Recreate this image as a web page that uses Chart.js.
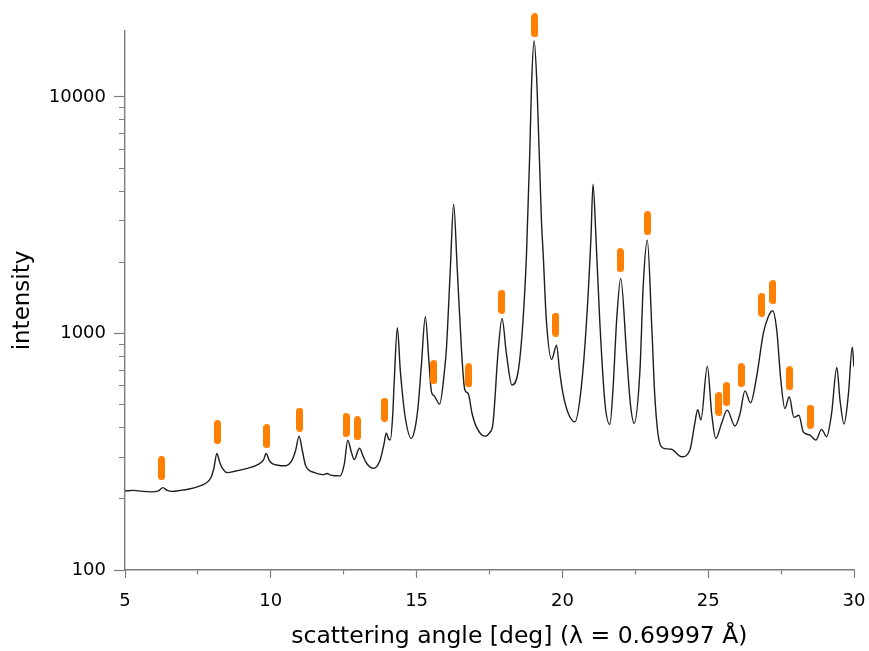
<!DOCTYPE html>
<html>
<head>
<meta charset="utf-8">
<script src="https://cdn.jsdelivr.net/npm/chart.js@4.4.0/dist/chart.umd.min.js"></script>
<style>
  html, body { margin: 0; padding: 0; background: #fff; }
</style>
</head>
<body>
<canvas id="xrd" width="869" height="651"></canvas>
<script>
// measured pattern (2theta in deg, intensity)
const angle = [
  5.0, 5.3, 5.6, 5.9, 6.15, 6.30, 6.45, 6.6, 6.9, 7.2, 7.5, 7.75, 7.95, 8.05, 8.15, 8.25, 8.35, 8.5, 8.8, 9.2,
  9.6, 9.75, 9.84, 9.95, 10.05, 10.5, 10.72, 10.85, 10.97, 11.08, 11.2, 11.5, 11.8, 11.93, 12.05, 12.38, 12.52, 12.64, 12.76, 12.86,
  13.04, 13.18, 13.29, 13.52, 13.75, 13.88, 13.96, 14.04, 14.1, 14.18, 14.23, 14.34, 14.44, 14.48, 14.6, 14.82, 14.95, 15.05, 15.16, 15.30,
  15.42, 15.51, 15.6, 15.79, 15.97, 16.02, 16.16, 16.27, 16.39, 16.54, 16.65, 16.77, 16.9, 17.05, 17.34, 17.5, 17.62, 17.79, 17.93, 18.08,
  18.27, 18.49, 18.65, 18.77, 18.88, 18.94, 19.03, 19.13, 19.28, 19.34, 19.45, 19.63, 19.80, 19.9, 20.02, 20.2, 20.43, 20.65, 20.83, 20.98,
  21.05, 21.15, 21.28, 21.46, 21.63, 21.74, 21.86, 22.0, 22.2, 22.33, 22.46, 22.66, 22.77, 22.91, 23.07, 23.17, 23.34, 23.51, 23.74, 24.09,
  24.37, 24.54, 24.64, 24.75, 24.97, 25.12, 25.26, 25.46, 25.65, 25.92, 26.09, 26.26, 26.45, 26.66, 26.89, 27.06, 27.21, 27.35, 27.49, 27.63,
  27.78, 27.94, 28.11, 28.26, 28.49, 28.69, 28.89, 29.06, 29.23, 29.41, 29.52, 29.66, 29.81, 29.94, 30.0
];
const intensity = [
  216, 217, 215, 214, 216, 223, 217, 215, 217, 220, 225, 232, 246, 270, 311, 285, 268, 258, 262, 269,
  281, 292, 311, 290, 282, 276, 290, 320, 368, 320, 275, 258, 253, 256, 252, 250, 280, 354, 316, 293,
  327, 300, 282, 269, 292, 340, 380, 358, 355, 450, 615, 1057, 700, 615, 450, 360, 400, 490, 723, 1177,
  770, 566, 545, 503, 723, 851, 1914, 3524, 1914, 851, 580, 557, 460, 403, 368, 380, 417, 822, 1158, 822,
  605, 700, 1137, 2183, 5768, 11040, 17270, 11040, 3015, 2183, 1137, 777, 893, 700, 557, 460, 423, 595, 1137, 2555,
  4280, 2555, 1137, 506, 413, 595, 1137, 1710, 822, 506, 417, 700, 1576, 2483, 1034, 540, 343, 326, 324, 301,
  321, 417, 476, 431, 728, 457, 360, 417, 474, 406, 457, 572, 509, 656, 1000, 1177, 1247, 1034, 636, 481,
  540, 442, 451, 384, 372, 354, 393, 366, 457, 719, 523, 414, 557, 878, 723
];

// reflection markers (position, marker centre height)
const reflAngle = [6.25, 8.17, 9.86, 10.99, 12.58, 12.97, 13.90, 15.59, 16.79, 17.92, 19.05, 19.77, 21.98, 22.92, 25.37, 25.63, 26.13, 26.84, 27.22, 27.79, 28.50];
const reflLevel = [270, 383, 368, 432, 410, 397, 476, 687, 665, 1361, 20090, 1091, 2042, 2930, 503, 555, 667, 1321, 1496, 646, 445];

const yTicks = [100, 200, 300, 400, 500, 600, 700, 800, 900,
  1000, 2000, 3000, 4000, 5000, 6000, 7000, 8000, 9000, 10000];
const yLabelled = [100, 1000, 10000];

// little orange bar used as the marker symbol
const bar = document.createElement('canvas');
bar.width = 7;
bar.height = 24;
const bctx = bar.getContext('2d');
bctx.fillStyle = '#ff7f00';
bctx.beginPath();
bctx.roundRect(0, 0, 7, 24, 3.5);
bctx.fill();

const axisGrey = '#7d7d7d';
const font = 'DejaVu Sans';

const ctx = document.getElementById('xrd').getContext('2d');
const chart = new Chart(ctx, {
  type: 'line',
  data: {
    datasets: [{
      label: 'reflections',
      data: reflAngle.map((x, i) => ({x: x, y: reflLevel[i]})),
      showLine: false,
      pointStyle: bar,
      pointRadius: 14,
      clip: false
    }, {
      label: 'pattern',
      data: angle.map((x, i) => ({x: x, y: intensity[i]})),
      borderColor: '#1e1e1e',
      borderWidth: 1.4,
      pointRadius: 0,
      cubicInterpolationMode: 'monotone',
      fill: false
    }]
  },
  options: {
    responsive: false,
    animation: false,
    devicePixelRatio: 1,
    layout: {padding: {top: 31, right: 15, left: 0, bottom: 0}},
    plugins: {
      legend: {display: false},
      tooltip: {enabled: false}
    },
    scales: {
      x: {
        type: 'linear',
        min: 5,
        max: 30,
        afterFit: (s) => {
          s.height = 81;
          s.paddingLeft = 0;
          s.paddingRight = 0;
        },
        border: {color: axisGrey, width: 1.4},
        grid: {
          drawOnChartArea: false,
          tickLength: 8,
          tickColor: axisGrey,
          tickWidth: 1.2,
          tickBorderDash: (c) => (c.tick && c.tick.value % 5 === 0) ? [] : [4, 100]
        },
        ticks: {
          stepSize: 2.5,
          padding: 13,
          color: '#000',
          font: {family: font, size: 18},
          maxRotation: 0,
          autoSkip: false,
          callback: (v) => (v % 5 === 0 ? String(v) : '')
        },
        title: {
          display: true,
          // leading spaces push the title right, as in the original plot
          text: '        scattering angle [deg] (λ = 0.69997 Å)',
          color: '#000',
          font: {family: font, size: 23.5},
          padding: {top: 0, bottom: 0}
        }
      },
      y: {
        type: 'logarithmic',
        min: 100,
        max: 19000,
        afterFit: (s) => { s.width = 125; },
        afterBuildTicks: (s) => { s.ticks = yTicks.map(v => ({value: v})); },
        border: {color: axisGrey, width: 1.4},
        grid: {
          drawOnChartArea: false,
          tickLength: 11,
          tickColor: axisGrey,
          tickWidth: 1.2,
          tickBorderDash: (c) => (c.tick && yLabelled.includes(c.tick.value)) ? [] : [0, 5, 6, 100]
        },
        ticks: {
          padding: 8,
          color: '#000',
          font: {family: font, size: 18},
          autoSkip: false,
          callback: (v) => (yLabelled.includes(v) ? String(v) : '')
        },
        title: {
          display: true,
          text: 'intensity',
          color: '#000',
          font: {family: font, size: 23},
          padding: {top: 9, bottom: 0}
        }
      }
    }
  }
});
</script>
</body>
</html>
